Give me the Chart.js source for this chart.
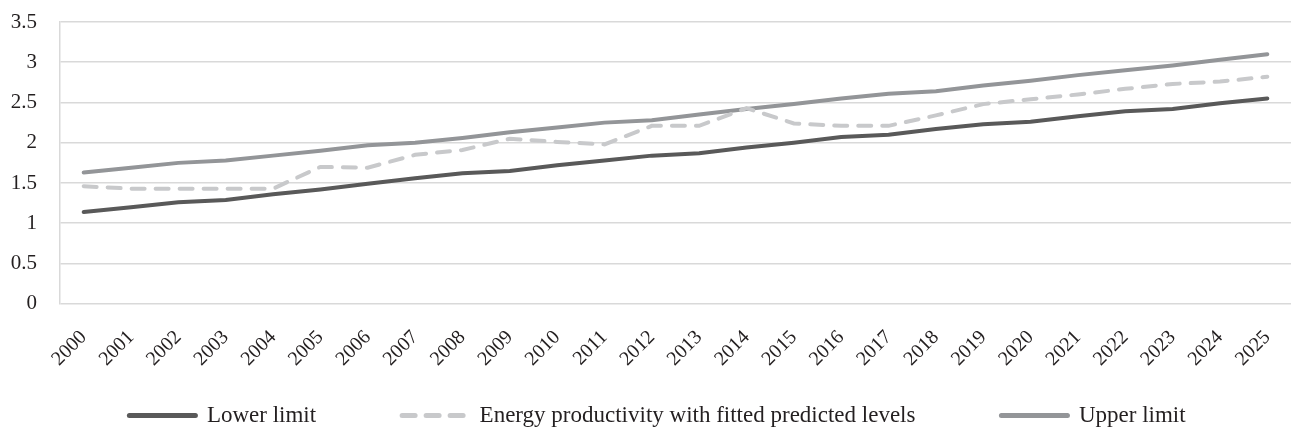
<!DOCTYPE html>
<html>
<head>
<meta charset="utf-8">
<script src="https://cdn.jsdelivr.net/npm/chart.js@4/dist/chart.umd.min.js"></script>
<style>
  body { margin: 0; background: #fff; }
  #wrap { width: 1291px; height: 434px; }
</style>
</head>
<body>
<div id="wrap"><canvas id="chart"></canvas></div>
<script>
// years on the x axis
const years = ['2000','2001','2002','2003','2004','2005','2006','2007','2008','2009','2010','2011','2012',
  '2013','2014','2015','2016','2017','2018','2019','2020','2021','2022','2023','2024','2025'];

// series
const lowerLimit = [1.14, 1.20, 1.26, 1.29, 1.36, 1.42, 1.49, 1.56, 1.62, 1.65, 1.72, 1.78, 1.84,
  1.87, 1.94, 2.00, 2.07, 2.10, 2.17, 2.23, 2.26, 2.33, 2.39, 2.42, 2.49, 2.55];
const fitted = [1.46, 1.43, 1.43, 1.43, 1.43, 1.70, 1.69, 1.85, 1.91, 2.05, 2.01, 1.98, 2.21,
  2.21, 2.43, 2.24, 2.21, 2.21, 2.34, 2.48, 2.54, 2.60, 2.67, 2.73, 2.76, 2.82];
const upperLimit = [1.63, 1.69, 1.75, 1.78, 1.84, 1.90, 1.97, 2.00, 2.06, 2.13, 2.19, 2.25, 2.28,
  2.35, 2.42, 2.48, 2.55, 2.61, 2.64, 2.71, 2.77, 2.84, 2.90, 2.96, 3.03, 3.10];

const yTicks = [0, 0.5, 1, 1.5, 2, 2.5, 3, 3.5];

const serif = '"Liberation Serif", "DejaVu Serif", serif';
const textColor = '#231f20';

// the legend keeps wide gaps between items; drop its drawing box so it sits low
// while only a short box is reserved for it in the layout
const legendDrop = {
  id: 'legendDrop',
  afterLayout(chart) {
    const lg = chart.legend;
    lg.top = lg.bottom - lg.options.labels.padding - 33;
    lg.left = 24;
  }
};

window.addEventListener('DOMContentLoaded', () => {
  const ctx = document.getElementById('chart').getContext('2d');

  new Chart(ctx, {
    type: 'line',
    data: {
      labels: years,
      datasets: [
        {
          label: 'Lower limit',
          data: lowerLimit,
          borderColor: '#595959',
          backgroundColor: '#595959',
          borderWidth: 4,
          borderCapStyle: 'round',
          pointRadius: 0,
          tension: 0
        },
        {
          label: 'Energy productivity with fitted predicted levels',
          data: fitted,
          borderColor: '#c8c9cb',
          backgroundColor: '#c8c9cb',
          borderWidth: 4,
          borderDash: [13, 11],
          borderCapStyle: 'round',
          pointRadius: 0,
          tension: 0
        },
        {
          label: 'Upper limit',
          data: upperLimit,
          borderColor: '#939598',
          backgroundColor: '#939598',
          borderWidth: 4,
          borderCapStyle: 'round',
          pointRadius: 0,
          tension: 0
        }
      ]
    },
    options: {
      responsive: true,
      maintainAspectRatio: false,
      animation: false,
      layout: { padding: { left: 8, right: 0, top: 22, bottom: -3 } },
      scales: {
        x: {
          offset: true,
          grid: { display: false, drawTicks: false },
          border: { display: false },
          afterFit: scale => { scale.paddingLeft = 0; scale.paddingRight = 0; },
          ticks: {
            color: textColor,
            font: { family: serif, size: 20 },
            minRotation: 45,
            maxRotation: 45,
            padding: 22,
            autoSkip: false
          }
        },
        y: {
          min: 0,
          max: 3.5,
          afterBuildTicks: axis => { axis.ticks = yTicks.map(v => ({ value: v })); },
          afterFit: scale => { scale.width = 52; scale.paddingTop = 0; scale.paddingBottom = 0; },
          grid: { color: '#d9d9d9', lineWidth: 1.5, drawTicks: false },
          border: { display: true, color: '#d9d9d9', width: 1.5 },
          ticks: {
            color: textColor,
            font: { family: serif, size: 21 },
            padding: 23,
            callback: v => String(v)
          }
        }
      },
      plugins: {
        legend: {
          position: 'bottom',
          maxHeight: 44,
          labels: {
            color: textColor,
            font: { family: serif, size: 23 },
            usePointStyle: true,
            pointStyle: 'line',
            pointStyleWidth: 66,
            padding: 86,
            generateLabels: chart => chart.data.datasets.map((ds, i) => ({
              text: ds.label,
              datasetIndex: i,
              fillStyle: ds.borderColor,
              strokeStyle: ds.borderColor,
              fontColor: textColor,
              lineWidth: 5,
              lineCap: 'round',
              lineDash: ds.borderDash || [],
              pointStyle: 'line',
              hidden: false
            }))
          }
        },
        tooltip: { enabled: false }
      }
    },
    plugins: [legendDrop]
  });
});
</script>
</body>
</html>
